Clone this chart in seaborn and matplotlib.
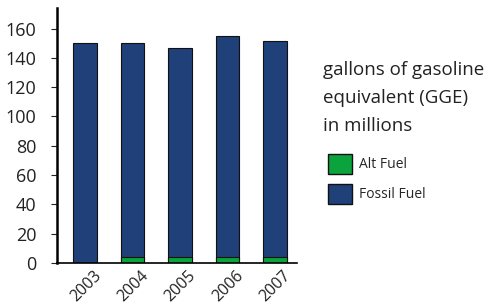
import matplotlib
matplotlib.use("Agg")
import matplotlib.pyplot as plt
import matplotlib.patches as mpatches
import matplotlib.transforms as mtransforms
import seaborn as sns
import pandas as pd

years = ['2003', '2004', '2005', '2006', '2007']
alt_fuel = [0, 4, 4, 4, 4]
total_fuel = [150, 150, 147, 155, 151.5]   # alt + fossil stacked
y_ticks = [0, 20, 40, 60, 80, 100, 120, 140, 160]

fossil_color = '#1f4079'
alt_color = '#0aa33c'

sns.set_style('white')
plt.rcParams['font.family'] = ['Open Sans', 'DejaVu Sans']

df = pd.DataFrame({'year': years, 'alt': alt_fuel, 'total': total_fuel})

fig = plt.figure(figsize=(5.01, 3.07), dpi=100)
ax = fig.add_axes([0.114, 0.143, 0.479, 0.831])

sns.barplot(data=df, x='year', y='total', color=fossil_color, saturation=1,
            width=0.5, edgecolor='#111111', linewidth=0.8, ax=ax)
sns.barplot(data=df[df['alt'] > 0], x='year', y='alt', color=alt_color, saturation=1,
            width=0.5, edgecolor='#111111', linewidth=0.8, ax=ax, order=years)

ax.set_xlim(-0.59, 4.47)
ax.set_ylim(0, 174)
ax.set_yticks(y_ticks)
ax.set_xlabel('')
ax.set_ylabel('')
sns.despine(ax=ax)
ax.spines['left'].set_linewidth(1.8)
ax.spines['bottom'].set_linewidth(1.2)
ax.spines['left'].set_color('black')
ax.spines['bottom'].set_color('black')
ax.tick_params(axis='y', length=4, width=0.8, pad=11, labelsize=13, left=True,
               colors='#222222', direction='out')
ax.tick_params(axis='x', length=0, pad=3, labelsize=11.5, labelcolor='#222222')
shift = mtransforms.ScaledTranslation(8 / 100, 0, fig.dpi_scale_trans)
for lbl in ax.get_xticklabels():
    lbl.set_rotation(45)
    lbl.set_ha('right')
    lbl.set_rotation_mode('anchor')
    lbl.set_transform(lbl.get_transform() + shift)

fig.text(0.645, 0.80, 'gallons of gasoline\nequivalent (GGE)\nin millions',
         fontsize=13.5, color='#222222', va='top', linespacing=1.7)

handles = [mpatches.Patch(facecolor=alt_color, edgecolor='#111111', label='Alt Fuel'),
           mpatches.Patch(facecolor=fossil_color, edgecolor='#111111', label='Fossil Fuel')]
fig.legend(handles=handles, loc='upper left', bbox_to_anchor=(0.636, 0.53),
           frameon=False, fontsize=10, handlelength=1.7, handleheight=1.8,
           handletextpad=0.5, labelspacing=0.75, borderpad=0.2)

fig.savefig('out.png', dpi=100)
